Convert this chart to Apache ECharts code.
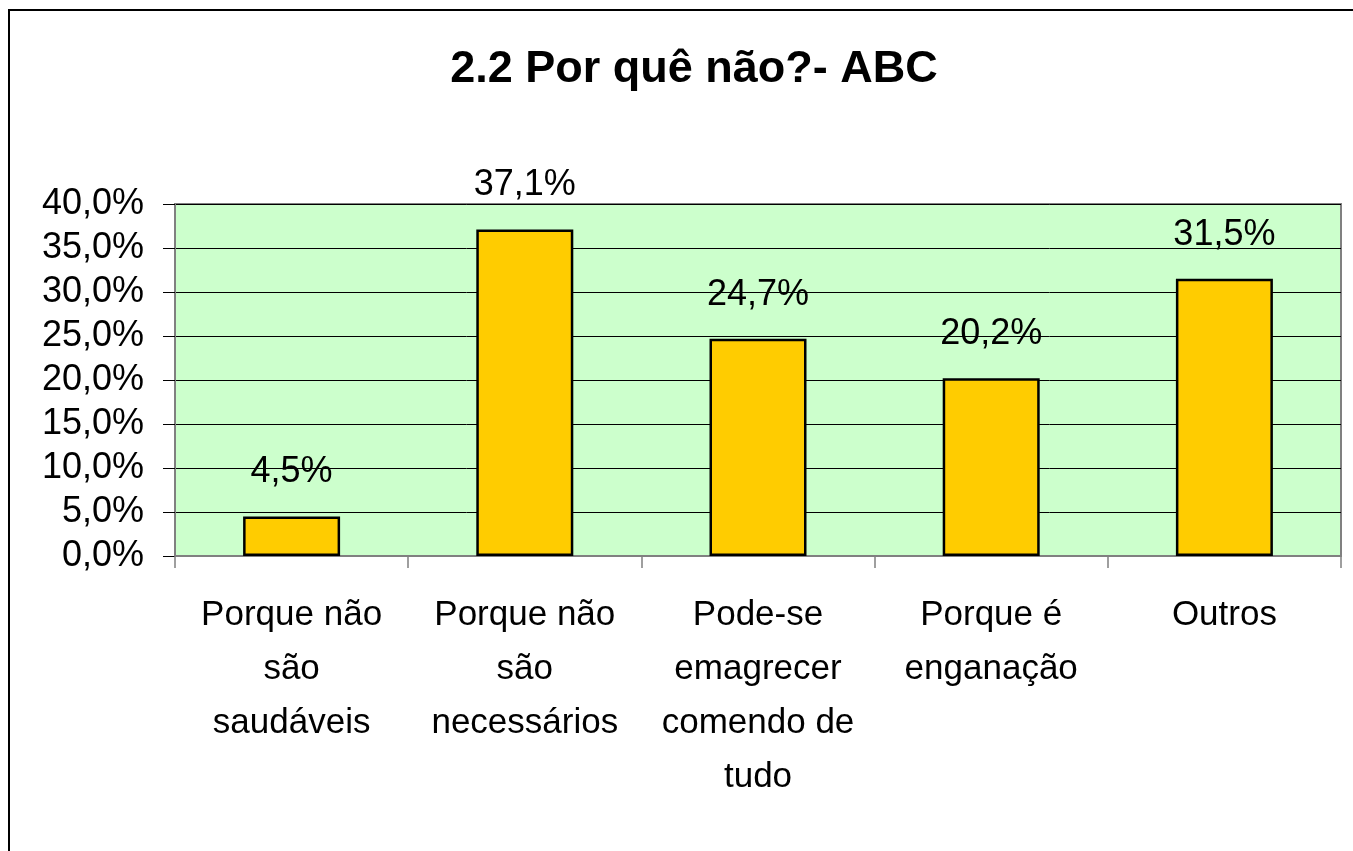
<!DOCTYPE html>
<html>
<head>
<meta charset="utf-8">
<script src="https://cdn.jsdelivr.net/npm/echarts@6/dist/echarts.min.js"></script>
<style>
html,body{margin:0;padding:0;background:#fff;}
#c{width:1353px;height:851px;}
</style>
</head>
<body>
<div id="c"></div>
<script>
const titleText = '2.2 Por quê não?- ABC';
const categories = [
  'Porque não\nsão\nsaudáveis',
  'Porque não\nsão\nnecessários',
  'Pode-se\nemagrecer\ncomendo de\ntudo',
  'Porque é\nenganação',
  'Outros'
];
const values = [4.5, 37.1, 24.7, 20.2, 31.5];
const yMin = 0, yMax = 40, yStep = 5;

const FONT = '"Liberation Sans", Arial, sans-serif';
const fmt = v => v.toFixed(1).replace('.', ',') + '%';

const chart = echarts.init(document.getElementById('c'), null, {renderer: 'canvas'});
chart.setOption({
  animation: false,
  backgroundColor: '#ffffff',
  title: {
    text: titleText,
    left: 689,
    textAlign: 'center',
    top: 42,
    textStyle: {fontFamily: FONT, fontSize: 45, fontWeight: 'bold', color: '#000'}
  },
  graphic: [{
    type: 'rect',
    shape: {x: 9, y: 10, width: 1420, height: 900},
    style: {fill: 'none', stroke: '#000', lineWidth: 2},
    silent: true, z: 100
  }],
  grid: {
    left: 175, right: 12, top: 204, bottom: 295,
    show: true, backgroundColor: '#CCFFCC', borderColor: '#808080', borderWidth: 2
  },
  xAxis: {
    type: 'category',
    data: categories,
    axisLine: {show: true, lineStyle: {color: '#808080', width: 2}},
    axisTick: {show: true, length: 12, lineStyle: {color: '#808080', width: 1.5}},
    axisLabel: {
      interval: 0, margin: 32, color: '#000',
      fontFamily: FONT, fontSize: 35, lineHeight: 54, align: 'center'
    },
    splitLine: {show: false}
  },
  yAxis: {
    type: 'value',
    min: yMin, max: yMax, interval: yStep,
    axisLine: {show: true, lineStyle: {color: '#808080', width: 2}},
    axisTick: {show: true, length: 12, lineStyle: {color: '#000', width: 1}},
    axisLabel: {
      margin: 31, color: '#000', fontFamily: FONT, fontSize: 36,
      formatter: v => fmt(v)
    },
    splitLine: {show: true, lineStyle: {color: '#000', width: 1}}
  },
  series: [{
    type: 'bar',
    data: values,
    barWidth: 97,
    itemStyle: {color: '#FFCC00', borderColor: '#000', borderWidth: 2.5},
    label: {
      show: true, position: 'top', distance: 26,
      color: '#000', fontFamily: FONT, fontSize: 36,
      formatter: p => fmt(p.value)
    }
  }]
});
</script>
</body>
</html>
